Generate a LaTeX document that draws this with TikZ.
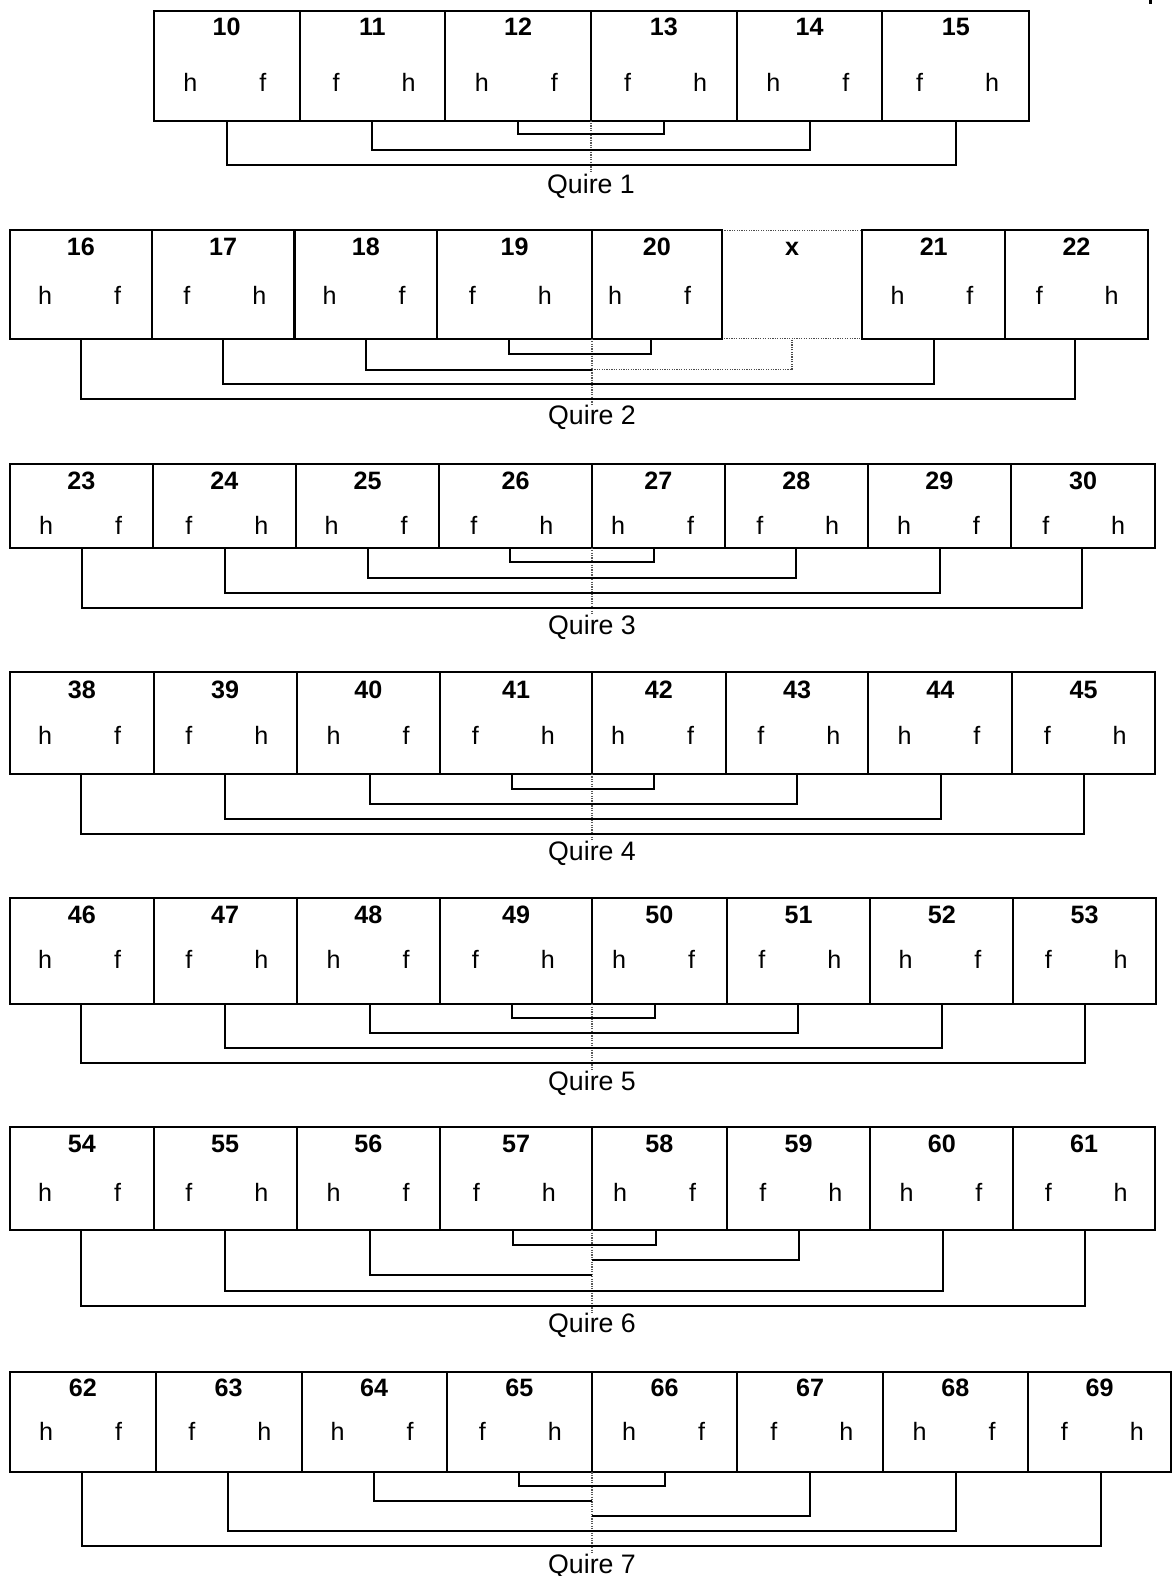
\documentclass[tikz,border=0pt]{standalone}
\usepackage{fontspec}
\setmainfont{Liberation Sans}
\newcommand\qbox[5]{%
  \pgfmathsetmacro\Qw{(#3-#2)*0.5}%
  \pgfmathsetmacro\Qh{(\Qbot-\Qtop)*0.5}%
  \node[leaf, minimum width=\Qw pt, minimum height=\Qh pt] (b#1) at (#2,\Qtop) {};
  \node[num] (n#1) at ({(#2+#3)/2},{\Qnum+8.8}) {#1};
  \ifnum#5=0
    \node[side] (l#1) at ({#4-36},{\Qhf+8.8}) {h};
    \node[side] (r#1) at ({#4+36},{\Qhf+8.8}) {f};
  \else
    \node[side] (l#1) at ({#4-36},{\Qhf+8.8}) {f};
    \node[side] (r#1) at ({#4+36},{\Qhf+8.8}) {h};
  \fi
  \coordinate (c#1) at (#4,\Qbot);
}
\begin{document}
\begin{tikzpicture}[x=0.5pt,y=-0.5pt,
  leaf/.style={draw, line width=1pt, rectangle, inner sep=0pt, outer sep=0pt, anchor=north west},
  ghost/.style={draw=black!70, line width=0.6pt, dash pattern=on 0.6pt off 0.6pt, rectangle, inner sep=0pt, outer sep=0pt, anchor=north west},
  num/.style={font=\fontsize{12.5}{14}\selectfont\bfseries, inner sep=0pt, anchor=base},
  side/.style={font=\fontsize{12.5}{14}\selectfont, inner sep=0pt, anchor=base},
  qlabel/.style={font=\fontsize{13.3}{15}\selectfont, inner sep=0pt, anchor=base},
  fold/.style={line width=1pt},
  foldx/.style={draw=black!70, line width=0.6pt, dash pattern=on 0.6pt off 0.6pt},
  spine/.style={draw=black!65, line width=0.6pt, dash pattern=on 0.6pt off 0.6pt}]
\useasboundingbox (0,0) rectangle (1167,1568);
\fill (1143.5,0) rectangle (1146.5,4);

% ---------- Quire 1
\def\Qtop{11}\def\Qbot{120}\def\Qnum{27}\def\Qhf{82}
\foreach \a/\b/\c/\d/\e in {10/153/298/225.5/0, 11/298/443/370.5/1, 12/443/588/515.5/0, 13/588/733/660.5/1, 14/733/878/805.5/0, 15/878/1024/951/1}{\qbox{\a}{\b}{\c}{\d}{\e}}
\draw[spine] (588,120) -- (588,171);
\draw[fold] (c12) -- ++(0,13) -| (c13);
\draw[fold] (c11) -- ++(0,29) -| (c14);
\draw[fold] (c10) -- ++(0,44) -| (c15);
\node[qlabel] (q1) at (588,{183+9.5}) {Quire 1};

% ---------- Quire 2
\def\Qtop{229}\def\Qbot{337}\def\Qnum{245}\def\Qhf{294}
\node[ghost, minimum width=70pt, minimum height=54pt] (bx) at (718,229) {};
\node[num] (nx) at (788,{245+8.8}) {x};
\coordinate (cx) at (788,337);
\foreach \a/\b/\c/\d/\e in {16/10/151/81/0, 17/151/293/222/1, 18/293/435/364/0, 19/435/589/506/1, 20/589/718/648/0, 21/858/1000/929/0, 22/1000/1142/1070/1}{\qbox{\a}{\b}{\c}{\d}{\e}}
\draw[spine] (589,337) -- (589,404);
\coordinate (m2) at (589,368);
\draw[fold] (c19) -- ++(0,15) -| (c20);
\draw[foldx] (m2) -| (cx);
\draw[fold] (c18) |- (m2);
\draw[fold] (c17) -- ++(0,45) -| (c21);
\draw[fold] (c16) -- ++(0,60) -| (c22);
\node[qlabel] (q2) at (589,{413+9.5}) {Quire 2};

% ---------- Quire 3
\def\Qtop{462}\def\Qbot{545}\def\Qnum{478}\def\Qhf{523}
\foreach \a/\b/\c/\d/\e in {23/10/152/82/0, 24/152/294.5/224/1, 25/294.5/437/366/0, 26/437/589/507.5/1, 27/589/721/651/0, 28/721/863.5/792/1, 29/863.5/1005.5/935.5/0, 30/1005.5/1149.5/1076.5/1}{\qbox{\a}{\b}{\c}{\d}{\e}}
\draw[spine] (589,545) -- (589,612);
\draw[fold] (c26) -- ++(0,14) -| (c27);
\draw[fold] (c25) -- ++(0,30) -| (c28);
\draw[fold] (c24) -- ++(0,45) -| (c29);
\draw[fold] (c23) -- ++(0,60) -| (c30);
\node[qlabel] (q3) at (589,{622+9.5}) {Quire 3};

% ---------- Quire 4
\def\Qtop{669}\def\Qbot{770}\def\Qnum{686}\def\Qhf{732}
\foreach \a/\b/\c/\d/\e in {38/10/153/81/0, 39/153/295/224/1, 40/295/438/368/0, 41/438/589/509/1, 42/589/722/651/0, 43/722/864/793/1, 44/864/1007/936/0, 45/1007/1149/1078/1}{\qbox{\a}{\b}{\c}{\d}{\e}}
\draw[spine] (589,770) -- (589,837);
\draw[fold] (c41) -- ++(0,15) -| (c42);
\draw[fold] (c40) -- ++(0,30) -| (c43);
\draw[fold] (c39) -- ++(0,45) -| (c44);
\draw[fold] (c38) -- ++(0,60) -| (c45);
\node[qlabel] (q4) at (589,{847+9.5}) {Quire 4};

% ---------- Quire 5
\def\Qtop{893}\def\Qbot{999}\def\Qnum{910}\def\Qhf{955}
\foreach \a/\b/\c/\d/\e in {46/10/153/81/0, 47/153/295/224/1, 48/295/438/368/0, 49/438/589/509/1, 50/589/723/652/0, 51/723/866/794/1, 52/866/1008/937/0, 53/1008/1150/1079/1}{\qbox{\a}{\b}{\c}{\d}{\e}}
\draw[spine] (589,999) -- (589,1065);
\draw[fold] (c49) -- ++(0,14) -| (c50);
\draw[fold] (c48) -- ++(0,29) -| (c51);
\draw[fold] (c47) -- ++(0,44) -| (c52);
\draw[fold] (c46) -- ++(0,59) -| (c53);
\node[qlabel] (q5) at (589,{1075+9.5}) {Quire 5};

% ---------- Quire 6
\def\Qtop{1121}\def\Qbot{1224}\def\Qnum{1138}\def\Qhf{1187}
\foreach \a/\b/\c/\d/\e in {54/10/153/81/0, 55/153/295/224/1, 56/295/438/368/0, 57/438/589/510/1, 58/589/723/653/0, 59/723/866/795/1, 60/866/1008/938/0, 61/1008/1149/1079/1}{\qbox{\a}{\b}{\c}{\d}{\e}}
\draw[spine] (589,1224) -- (589,1307);
\coordinate (m6a) at (589,1254);
\coordinate (m6b) at (589,1269);
\draw[fold] (c57) -- ++(0,15) -| (c58);
\draw[fold] (m6a) -| (c59);
\draw[fold] (c56) |- (m6b);
\draw[fold] (c55) -- ++(0,60) -| (c60);
\draw[fold] (c54) -- ++(0,75) -| (c61);
\node[qlabel] (q6) at (589,{1316+9.5}) {Quire 6};

% ---------- Quire 7
\def\Qtop{1365}\def\Qbot{1465}\def\Qnum{1381}\def\Qhf{1424}
\foreach \a/\b/\c/\d/\e in {62/10/155/82/0, 63/155/300/227/1, 64/300/444.5/372/0, 65/444.5/589/516/1, 66/589/733.5/662/0, 67/733.5/878.5/806/1, 68/878.5/1022.5/951/0, 69/1022.5/1165.5/1095/1}{\qbox{\a}{\b}{\c}{\d}{\e}}
\draw[spine] (589,1465) -- (589,1545);
\coordinate (m7a) at (589,1493);
\coordinate (m7b) at (589,1508);
\draw[fold] (c65) -- ++(0,13) -| (c66);
\draw[fold] (c64) |- (m7a);
\draw[fold] (m7b) -| (c67);
\draw[fold] (c63) -- ++(0,58) -| (c68);
\draw[fold] (c62) -- ++(0,73) -| (c69);
\node[qlabel] (q7) at (589,{1556+9}) {Quire 7};
\end{tikzpicture}
\end{document}
